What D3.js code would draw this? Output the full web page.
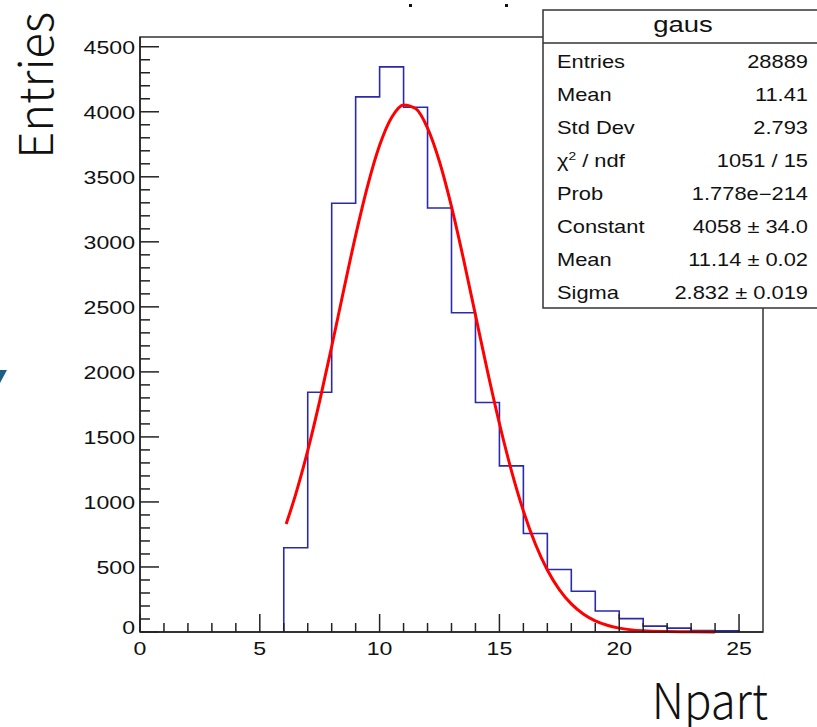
<!DOCTYPE html>
<html>
<head>
<meta charset="utf-8">
<script src="https://cdn.jsdelivr.net/npm/d3@7"></script>
<style>
  html, body { margin: 0; padding: 0; background: #fff; }
  svg { display: block; }
</style>
</head>
<body>
<svg id="svg" width="817" height="727"></svg>
<script>
// histogram bins (lower edge, width 1) and their contents
const binLow = [6, 7, 8, 9, 10, 11, 12, 13, 14, 15, 16, 17, 18, 19, 20, 21, 22, 23, 24];
const binCount = [648, 1844, 3297, 4115, 4345, 4035, 3260, 2455, 1765, 1277, 757, 480, 313, 162, 103, 45, 30, 11, 9];

// fitted gaus curve
const fitX = [6.1, 6.5, 7, 7.5, 8, 8.5, 9, 9.5, 10, 10.5, 11, 11.5, 12, 12.5, 13, 13.5, 14, 14.5, 15, 15.5, 16, 16.5, 17, 17.5, 18, 18.5, 19, 19.5, 20, 21, 22, 23, 24];
const fitY = [830, 1060, 1394, 1777, 2195, 2628, 3050, 3431, 3742, 3956, 4053, 4025, 3875, 3616, 3271, 2868, 2437, 2007, 1603, 1241, 931, 677, 477, 326, 216, 139, 86, 52, 30, 9, 3, 1, 0];

const xTicks = [0, 5, 10, 15, 20, 25];
const yTicks = [0, 500, 1000, 1500, 2000, 2500, 3000, 3500, 4000, 4500];

const statsTitle = "gaus";
const statsLabels = ["Entries", "Mean", "Std Dev", "χ2 / ndf", "Prob", "Constant", "Mean", "Sigma"];
const statsValues = ["28889", "11.41", "2.793", "1051 / 15", "1.778e\u2212214", "4058 \u00b1 34.0", "11.14 \u00b1 0.02", "2.832 \u00b1 0.019"];

const rootFont = "'Liberation Sans', Arial, Helvetica, sans-serif";
const bigFont = "'Noto Sans CJK JP', 'Noto Sans', sans-serif";
const sx = 1.25;   // the picture is a bit stretched sideways

const svg = d3.select("#svg");

const x = d3.scaleLinear().domain([0, 26]).range([140, 763]);
const y = d3.scaleLinear().domain([0, 4575]).range([632, 37]);

// text helper with horizontal stretch
function stext(g, px, py, str, size, anchor, fam) {
    return g.append("text")
        .attr("transform", `translate(${px},${py}) scale(${sx},1)`)
        .attr("text-anchor", anchor || "start")
        .attr("font-family", fam || rootFont)
        .attr("font-size", size)
        .attr("fill", "#111")
        .text(str);
}

// frame
svg.append("rect")
    .attr("x", x(0)).attr("y", y.range()[1])
    .attr("width", x(26) - x(0)).attr("height", y(0) - y.range()[1])
    .attr("fill", "none").attr("stroke", "#333").attr("stroke-width", 1.5);

// histogram outline
let histPts = [[binLow[0], 0]];
binLow.forEach(function (lo, i) {
    histPts.push([lo, binCount[i]]);
    histPts.push([lo + 1, binCount[i]]);
});
histPts.push([binLow[binLow.length - 1] + 1, 0]);

const line = d3.line()
    .x(function (d) { return x(d[0]); })
    .y(function (d) { return y(d[1]); });

svg.append("path")
    .attr("d", line(histPts))
    .attr("fill", "none")
    .attr("stroke", "#2a2aae")
    .attr("stroke-width", 1.6);

// fit curve
const fitLine = d3.line()
    .x(function (d, i) { return x(fitX[i]); })
    .y(function (d) { return y(d); })
    .curve(d3.curveMonotoneX);

svg.append("path")
    .attr("d", fitLine(fitY))
    .attr("fill", "none")
    .attr("stroke", "#ff0000")
    .attr("stroke-width", 3);

// x axis ticks (inside, pointing up)
const axisG = svg.append("g").attr("stroke", "#222").attr("stroke-width", 1.5);
d3.range(0, 26).forEach(function (v) {
    const major = v % 5 === 0;
    axisG.append("line")
        .attr("x1", x(v)).attr("x2", x(v))
        .attr("y1", y(0)).attr("y2", y(0) - (major ? 18 : 9));
});
// y axis ticks (inside, pointing right)
d3.range(0, 4501, 100).forEach(function (v) {
    const major = v % 500 === 0;
    axisG.append("line")
        .attr("x1", x(0)).attr("x2", x(0) + (major ? 19 : 10))
        .attr("y1", y(v)).attr("y2", y(v));
});
axisG.append("line").attr("x1", x(0)).attr("x2", x(26)).attr("y1", y(0)).attr("y2", y(0));
axisG.append("line").attr("x1", x(0)).attr("x2", x(0)).attr("y1", y(0)).attr("y2", y.range()[1]);

// tick labels
const labG = svg.append("g");
xTicks.forEach(function (v) {
    stext(labG, x(v), 655, String(v), 18.5, "middle");
});
yTicks.forEach(function (v) {
    stext(labG, x(0) - 5, y(v) + (v === 0 ? 2 : 7), String(v), 18.5, "end");
});

// axis titles
svg.append("text")
    .attr("transform", "translate(768,719) scale(0.93,1)")
    .attr("text-anchor", "end")
    .attr("font-family", bigFont).attr("font-weight", 300)
    .attr("font-size", 49).attr("fill", "#111")
    .text("Npart");
svg.append("text")
    .attr("transform", "translate(53,12) rotate(-90)")
    .attr("text-anchor", "end")
    .attr("font-family", bigFont).attr("font-weight", 300)
    .attr("font-size", 47).attr("fill", "#111")
    .text("Entries");

// stats box
const box = svg.append("g");
box.append("rect")
    .attr("x", 543).attr("y", 10).attr("width", 300).attr("height", 298)
    .attr("fill", "#fff").attr("stroke", "#333").attr("stroke-width", 1.5);
box.append("line")
    .attr("x1", 543).attr("x2", 817).attr("y1", 43).attr("y2", 43)
    .attr("stroke", "#333").attr("stroke-width", 1.5);
stext(box, 683, 32, statsTitle, 22, "middle");
statsLabels.forEach(function (lab, i) {
    const by = 68 + i * 33;
    if (lab.indexOf("χ2") === 0) {
        const t = stext(box, 557, by, "", 17.5, "start");
        t.append("tspan").text("χ");
        t.append("tspan").attr("font-size", 11).attr("dy", -7).text("2");
        t.append("tspan").attr("dy", 7).text(" / ndf");
    } else {
        stext(box, 557, by, lab, 17.5, "start");
    }
    stext(box, 808, by, statsValues[i], 17.5, "end");
});

// cut-off bits at the picture edges
svg.append("rect").attr("x", 409).attr("y", 4).attr("width", 3).attr("height", 3).attr("fill", "#111");
svg.append("rect").attr("x", 505).attr("y", 4).attr("width", 3).attr("height", 3).attr("fill", "#111");
svg.append("path").attr("d", "M0,370 L7,370 L0,383 Z").attr("fill", "#1d5f82");
</script>
</body>
</html>
